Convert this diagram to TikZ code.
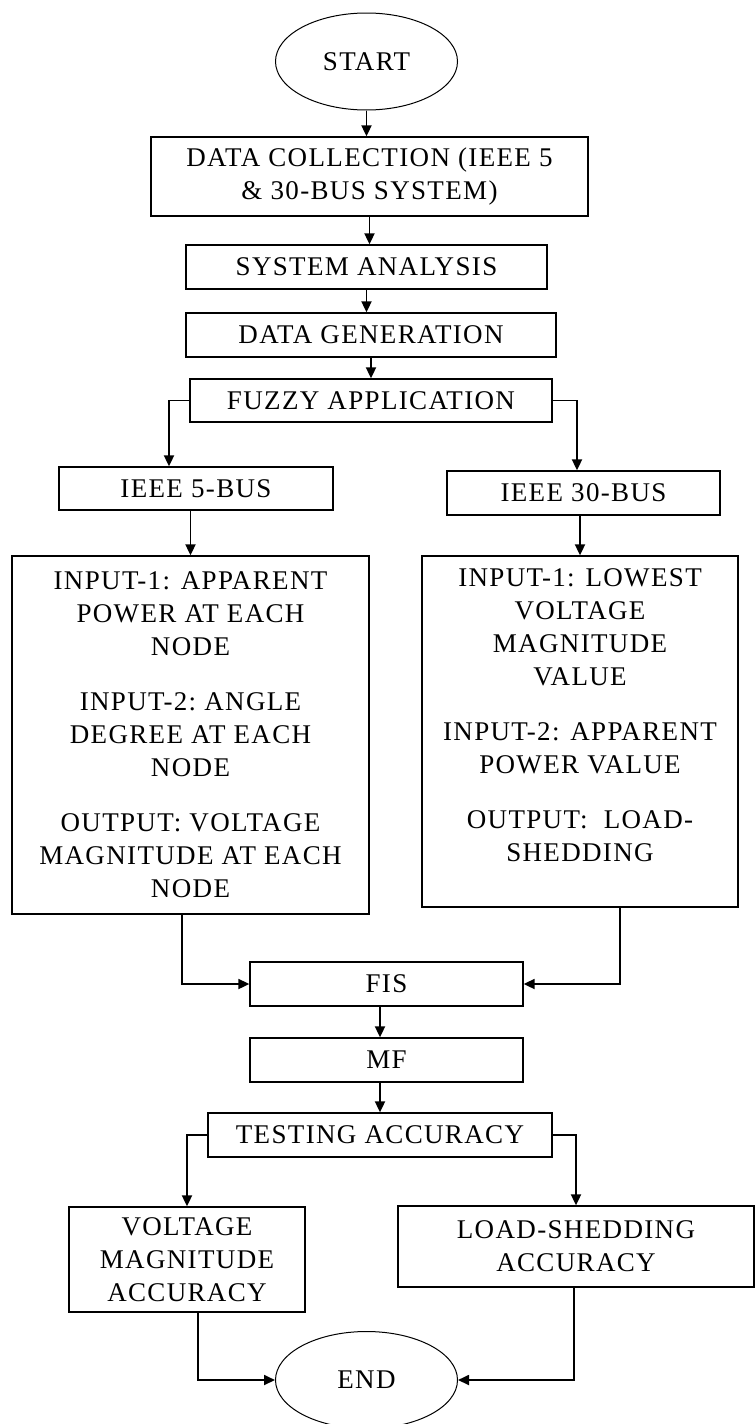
\documentclass[tikz,border=0pt]{standalone}
\usepackage{fontspec}
\setmainfont[LetterSpace=5]{Liberation Serif}
\usetikzlibrary{arrows.meta,positioning,shapes.geometric}

\begin{document}
\begin{tikzpicture}[
    x=1pt, y=-1pt,
    box/.style={draw=black, line width=1.3pt, inner sep=0pt, align=center, font=\fontsize{27}{33}\selectfont},
    term/.style={ellipse, draw=black, line width=1pt, inner sep=0pt, minimum width=182pt, minimum height=97pt, font=\fontsize{27}{33}\selectfont},
    arrow/.style={-{Triangle[length=11pt,width=10pt]}, line width=1.8pt},
]
\useasboundingbox (0,0) rectangle (755,1424);

% main column
\node[term] (start) at (366.5,61.5) {START};
\node[box, minimum width=437pt, minimum height=79pt] (dc) at (369.5,176.5) {DATA COLLECTION (IEEE 5\\\& 30-BUS SYSTEM)};
\node[box, minimum width=361pt, minimum height=44pt] (sa) at (366.5,267) {SYSTEM ANALYSIS};
\node[box, minimum width=370pt, minimum height=44pt] (dg) at (371,335) {DATA GENERATION};
\node[box, minimum width=362pt, minimum height=43pt] (fa) at (371,400.5) {FUZZY APPLICATION};

% two bus systems
\node[box, minimum width=274pt, minimum height=43pt] (ieee5) at (196,488.5) {IEEE 5-BUS};
\node[box, minimum width=273pt, minimum height=44pt] (ieee30) at (583.5,493) {IEEE 30-BUS};
\node[box, minimum width=357pt, minimum height=358pt] (in5) at (190.5,735)
    {INPUT-1: APPARENT\\POWER AT EACH\\NODE\\[22pt]INPUT-2:\ ANGLE\\DEGREE AT EACH\\NODE\\[22pt]OUTPUT: VOLTAGE\\MAGNITUDE AT EACH\\NODE};
\node[box, minimum width=316pt, minimum height=351pt] (in30) at (580,731.5)
    {INPUT-1: LOWEST\\VOLTAGE\\MAGNITUDE\\VALUE\\[22pt]INPUT-2: APPARENT\\POWER VALUE\\[22pt]OUTPUT:\ \ LOAD-\\SHEDDING\\ ~};

% fuzzy system
\node[box, minimum width=273pt, minimum height=44pt] (fis) at (386.5,984) {FIS};
\node[box, minimum width=273pt, minimum height=44pt] (mf) at (386.5,1060) {MF};
\node[box, minimum width=344pt, minimum height=44pt] (ta) at (380,1135) {TESTING ACCURACY};

% results
\node[box, minimum width=236pt, minimum height=105pt] (vma) at (187,1259.5) {VOLTAGE\\MAGNITUDE\\ACCURACY};
\node[box, minimum width=356pt, minimum height=81pt] (lsa) at (576,1246.5) {LOAD-SHEDDING\\ACCURACY};
\node[term] (stop) at (366.5,1380) {END};

\draw[arrow] (start.south) -- (start.south |- dc.north);
\draw[arrow] (dc.south) -- (dc.south |- sa.north);
\draw[arrow] (sa.south) -- (sa.south |- dg.north);
\draw[arrow] (dg.south) -- (dg.south |- fa.north);
\draw[arrow] (fa.west) -| ([xshift=-27pt]ieee5.north);
\draw[arrow] (fa.east) -| ([xshift=-6.5pt]ieee30.north);
\draw[arrow] (ieee5.south -| in5.north) -- (in5.north);
\draw[arrow] (ieee30.south -| in30.north) -- (in30.north);
\draw[arrow] ([xshift=-8.5pt]in5.south) |- (fis.west);
\draw[arrow] ([xshift=40pt]in30.south) |- (fis.east);
\draw[arrow] ([xshift=-6.5pt]fis.south) -- ([xshift=-6.5pt]mf.north);
\draw[arrow] (mf.south -| ta.north) -- (ta.north);
\draw[arrow] (ta.west) -| (vma.north);
\draw[arrow] (ta.east) -| (lsa.north);
\draw[arrow] ([xshift=11pt]vma.south) |- (stop.west);
\draw[arrow] ([xshift=-2pt]lsa.south) |- (stop.east);
\end{tikzpicture}
\end{document}
